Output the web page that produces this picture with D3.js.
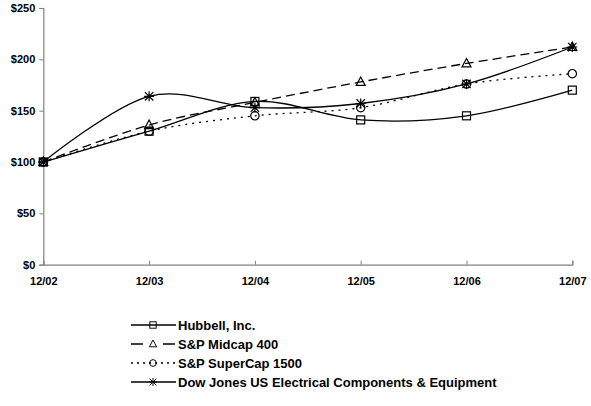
<!DOCTYPE html>
<html lang="en">
  <head>
    <meta charset="UTF-8" />
    <title>Cumulative total return</title>
    <script src="https://d3js.org/d3.v7.min.js"></script>
    <style>
      body { margin: 0; background: #fff; }
      text { font-family: 'Liberation Sans', Arial, sans-serif; font-weight: bold; }
    </style>
  </head>
  <body>
    <svg width="591" height="406"></svg>
    <script>
      var periods = ['12/02', '12/03', '12/04', '12/05', '12/06', '12/07']
      var yTicks = [0, 50, 100, 150, 200, 250]

      var hubbell = [100, 130, 159, 141, 145, 170]
      var midcap = [100, 136, 158, 178, 196, 212]
      var supercap = [100, 130, 145, 153, 176, 186]
      var dowJones = [100, 164, 153, 157, 176, 212]

      var seriesNames = [
        'Hubbell, Inc.',
        'S&P Midcap 400',
        'S&P SuperCap 1500',
        'Dow Jones US Electrical Components & Equipment'
      ]

      var series = [
        { name: seriesNames[0], values: hubbell, marker: 'square', dash: null },
        { name: seriesNames[1], values: midcap, marker: 'triangle', dash: '9,5' },
        { name: seriesNames[2], values: supercap, marker: 'circle', dash: '2,5' },
        { name: seriesNames[3], values: dowJones, marker: 'star', dash: null }
      ]

      var svg = d3.select('svg')
      var plot = { left: 43.3, right: 572.3, top: 8, bottom: 264.7 }

      var x = d3.scalePoint().domain(periods).range([plot.left, plot.right])
      var y = d3.scaleLinear().domain([0, 250]).range([plot.bottom, plot.top])

      // axes
      var yAxis = svg.append('g')
        .attr('transform', 'translate(' + plot.left + ',0)')
        .call(d3.axisLeft(y).tickValues(yTicks).tickSize(4).tickPadding(4)
          .tickFormat(function(d) { return '$' + d }))
      var xAxis = svg.append('g')
        .attr('transform', 'translate(0,' + plot.bottom + ')')
        .call(d3.axisBottom(x).tickSize(-4).tickPadding(10))

      ;[yAxis, xAxis].forEach(function(a) {
        a.select('.domain').attr('stroke', '#808080').attr('stroke-width', 1.2)
        a.selectAll('.tick line').attr('stroke', '#808080')
        a.selectAll('text').attr('fill', '#000').style('font-size', '11px')
          .style('font-family', "'Liberation Sans', Arial, sans-serif")
      })
      xAxis.selectAll('.tick text').attr('dy', '0.71em').attr('y', 13)

      var line = d3.line()
        .x(function(d, i) { return x(periods[i]) })
        .y(function(d) { return y(d) })
        .curve(d3.curveCardinal.tension(0))

      svg.selectAll('.series')
        .data(series)
        .enter()
        .append('path')
        .attr('class', 'series')
        .attr('d', function(d) { return line(d.values) })
        .attr('fill', 'none')
        .attr('stroke', '#000')
        .attr('stroke-width', 1.3)
        .attr('stroke-dasharray', function(d) { return d.dash })

      function drawMarker(g, type) {
        if (type === 'square') {
          g.append('rect').attr('x', -4).attr('y', -4).attr('width', 8).attr('height', 8)
        } else if (type === 'triangle') {
          g.append('path').attr('d', 'M0,-5L4.5,3.5L-4.5,3.5Z')
        } else if (type === 'circle') {
          g.append('circle').attr('r', 4.2)
        } else {
          g.append('path').attr('d', 'M0,-5V5M-4.2,-4.2L4.2,4.2M4.2,-4.2L-4.2,4.2M-5,0H5')
        }
        g.selectAll('*').attr('fill', 'none').attr('stroke', '#000').attr('stroke-width', 1.2)
      }

      series.forEach(function(s) {
        s.values.forEach(function(v, i) {
          var m = svg.append('g')
            .attr('transform', 'translate(' + x(periods[i]) + ',' + y(v) + ')')
          drawMarker(m, s.marker)
        })
      })

      // legend
      var legend = svg.selectAll('.legend')
        .data(series)
        .enter()
        .append('g')
        .attr('class', 'legend')
        .attr('transform', function(d, i) { return 'translate(0,' + (325 + i * 19) + ')' })

      legend.append('line')
        .attr('x1', 131)
        .attr('x2', 176)
        .attr('stroke', '#000')
        .attr('stroke-width', 1.3)
        .attr('stroke-dasharray', function(d) {
          if (d.marker === 'triangle') return '12,20'
          if (d.marker === 'circle') return '2,4'
          return null
        })
      legend.each(function(d) {
        var g = d3.select(this).append('g').attr('transform', 'translate(153,0) scale(0.8)')
        drawMarker(g, d.marker)
      })
      legend.append('text')
        .attr('x', 178)
        .attr('dy', '0.35em')
        .style('font-size', '13px')
        .text(function(d) { return d.name })
    </script>
  </body>
</html>
